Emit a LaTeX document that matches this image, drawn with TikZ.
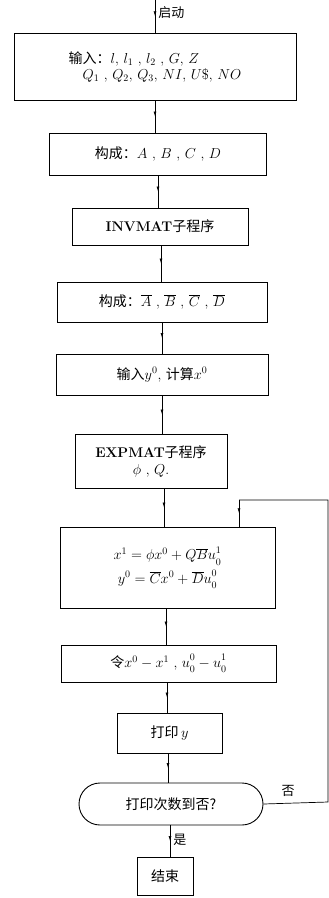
\documentclass[tikz,border=0pt]{standalone}
\usepackage{fontspec}
\newfontfamily\cjk{Noto Sans CJK SC}
\newcommand{\zh}[1]{{\cjk #1}}
\newcommand{\uss}[2]{u_{\raisebox{-1.5pt}{$\scriptstyle #1$}}^{\raisebox{1.5pt}{$\scriptstyle #2$}}}
\usetikzlibrary{decorations.markings,arrows.meta}
\begin{document}
\begin{tikzpicture}[x=1pt,y=-1pt,
  box/.style={draw,line width=0.9pt,inner sep=0pt,font=\fontsize{14}{17}\selectfont},
  flow/.style={line width=0.7pt,postaction={decorate},decoration={markings,mark=at position 0.5 with {\arrow{Latex[length=5pt,width=3pt]}}}},
  lbl/.style={font=\cjk\fontsize{13}{15}\selectfont,inner sep=1pt}]
\useasboundingbox (0,0) rectangle (329,898);
\coordinate (top) at (155,0);
\node[box,minimum width=282pt,minimum height=67pt,align=left] (b1) at (155,66.5)
  {\zh{输入：}$l$, $l_1$ , $l_2$ , $G$, $Z$\\[-1pt]\hspace{14pt}$Q_1$ , $Q_2$, $Q_3$, $NI$, $U\$$, $NO$};
\node[box,minimum width=217pt,minimum height=42pt] (b2) at (158,154) {\zh{构成：}$A$ , $B$ , $C$ , $D$};
\node[box,minimum width=176pt,minimum height=37pt] (b3) at (160,226.5) {\textbf{INVMAT}\zh{子程序}};
\node[box,minimum width=210pt,minimum height=40pt] (b4) at (162,302) {\zh{构成：}$\overline{A}$ , $\overline{B}$ , $\overline{C}$ , $\overline{D}$};
\node[box,minimum width=212pt,minimum height=41pt] (b5) at (162,374.5) {\zh{输入}$y^0$, \zh{计算}$x^0$};
\node[box,minimum width=152pt,minimum height=54pt,align=center] (b6) at (151,461) {\textbf{EXPMAT}\zh{子程序}\\$\phi$ , $Q$.};
\node[box,minimum width=215pt,minimum height=81pt,align=center] (b7) at (167.5,567.5)
  {$x^1=\phi x^0+Q\overline{B}\uss{0}{1}$\\[4pt]$y^0=\overline{C}x^0+\overline{D}\uss{0}{0}$};
\node[box,minimum width=215pt,minimum height=37pt] (b8) at (168.5,663.5) {\zh{令}$x^0 - x^1$ , $\uss{0}{0} - \uss{0}{1}$};
\node[box,minimum width=105pt,minimum height=40pt] (b9) at (169.5,733) {\zh{打印}$\,y$};
\node[box,minimum width=184pt,minimum height=42pt,rounded corners=21pt] (b10) at (171,804) {\zh{打印次数到否?}};
\node[box,minimum width=56pt,minimum height=38pt] (b11) at (165,876) {\zh{结束}};
\coordinate (r1) at (328,802);
\coordinate (r2) at (328,500);
\coordinate (r3) at (239,500);
\draw[flow] (top) -- (top |- b1.north) node[lbl,pos=0.4,right=2pt] {启动};
\draw[flow] (b1.south -| 155,0) -- (b2.north -| 155,0);
\draw[flow] (b2.south -| 158,0) -- (b3.north -| 158,0);
\draw[flow] (b3.south -| 161,0) -- (b4.north -| 161,0);
\draw[flow] (b4.south -| 162,0) -- (b5.north -| 162,0);
\draw[flow] (b5.south -| 162,0) -- (b6.north -| 162,0);
\draw[flow] (b6.south -| 164,0) -- (b7.north -| 164,0);
\draw[flow] (b7.south -| 166,0) -- (b8.north -| 166,0);
\draw[flow] (b8.south -| 167,0) -- (b9.north -| 167,0);
\draw[flow] (b9.south -| 168,0) -- (b10.north -| 168,0);
\draw[flow] (b10.south -| 170,0) -- (b11.north -| 170,0) node[lbl,pos=0.45,right=2pt] {是};
\draw[line width=0.7pt] (b10.east) -- (r1) -- (r2) -- (r3);
\draw[flow] (r3) -- (r3 |- b7.north);
\node[lbl] (no) at (288,791) {否};
\end{tikzpicture}
\end{document}
